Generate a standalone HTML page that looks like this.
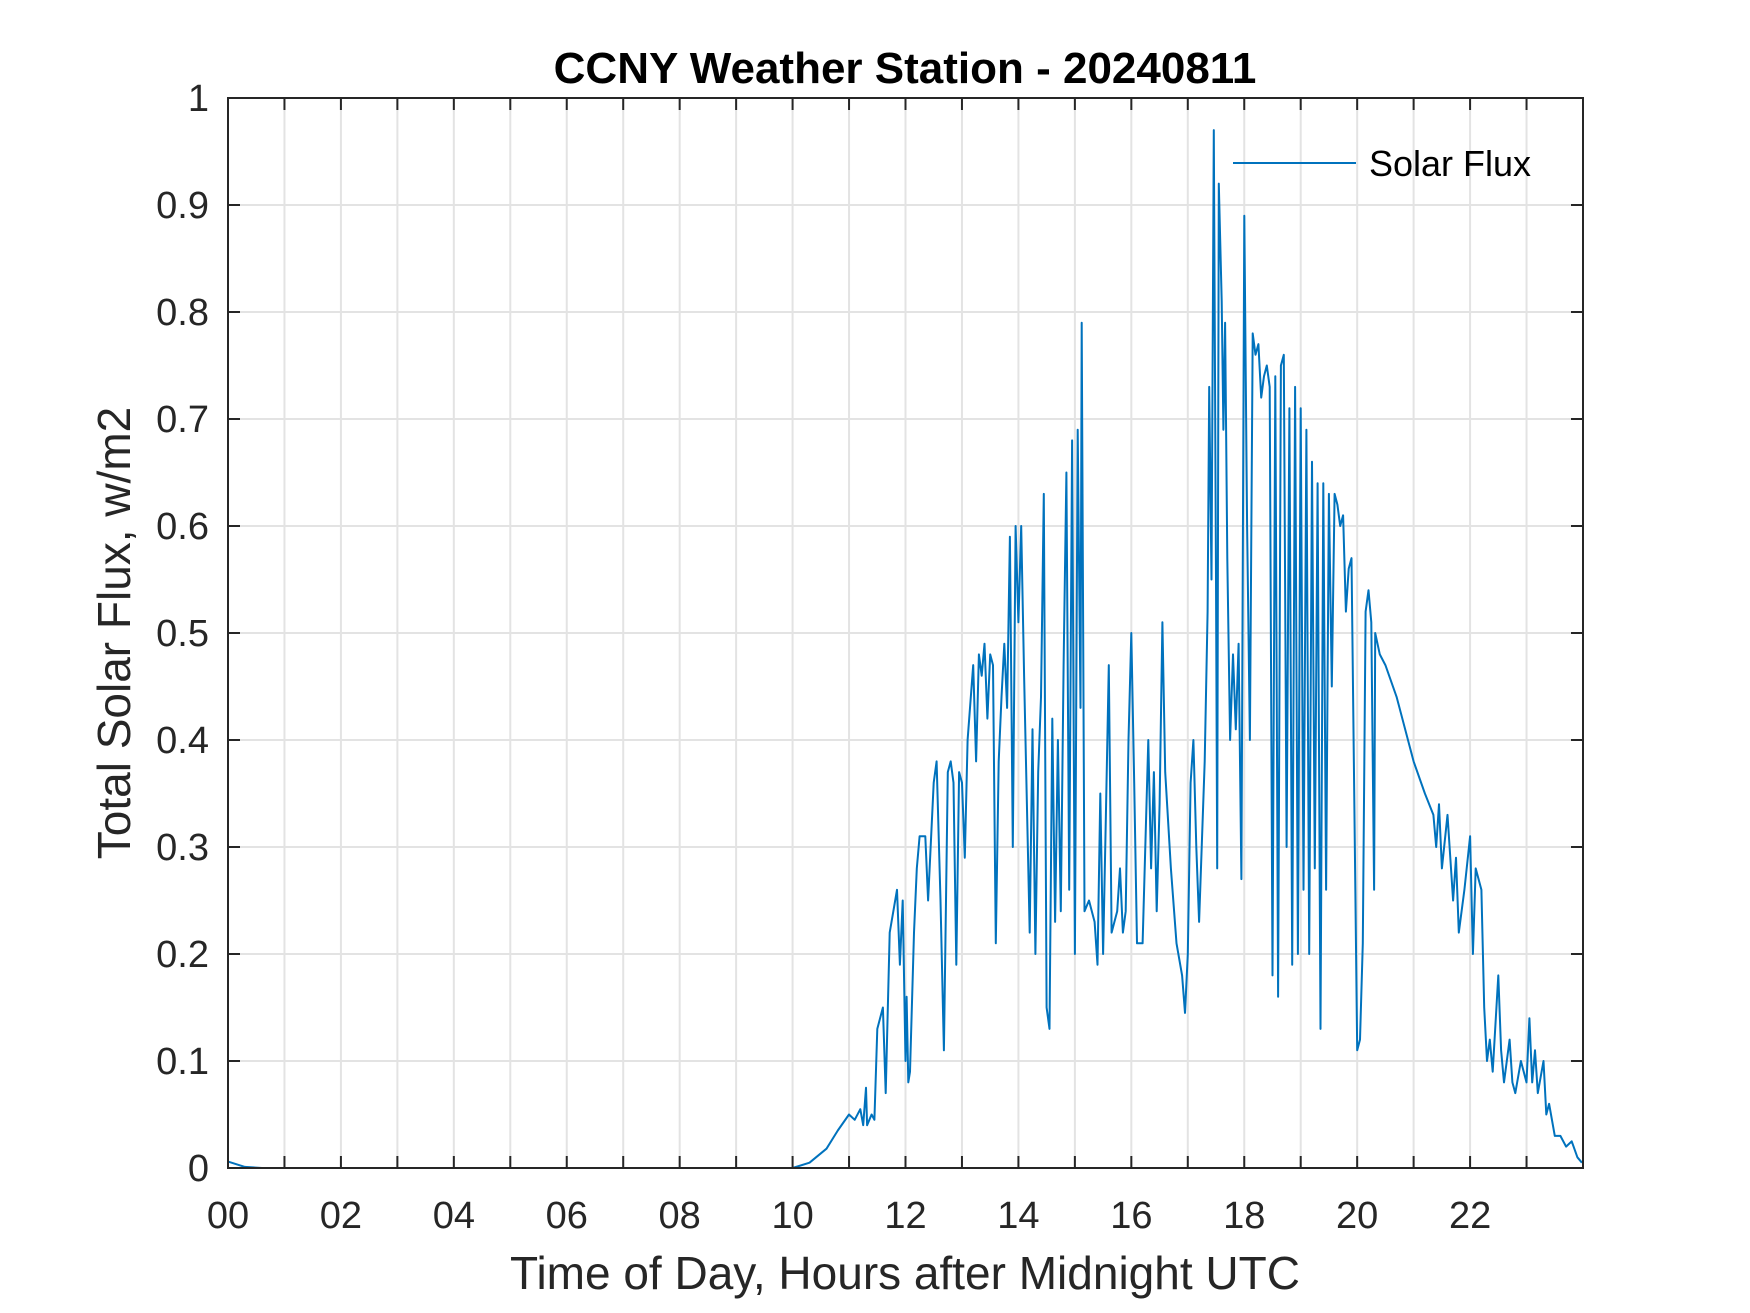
<!DOCTYPE html>
<html><head><meta charset="utf-8"><style>
html,body{margin:0;padding:0;background:#fff;}
svg{display:block;font-family:"Liberation Sans",Arial,sans-serif;}
</style></head><body>
<svg id="chart" width="1750" height="1313" viewBox="0 0 1750 1313" xmlns="http://www.w3.org/2000/svg">
<rect width="1750" height="1313" fill="#fff"/>
<g id="grid"></g>
<g id="series"></g>
<g id="axes"></g>
<text x="905" y="83" text-anchor="middle" font-size="44" font-weight="bold" fill="#000">CCNY Weather Station - 20240811</text>
<text x="905" y="1289" text-anchor="middle" font-size="46" fill="#262626">Time of Day, Hours after Midnight UTC</text>
<text transform="translate(130,633) rotate(-90)" text-anchor="middle" font-size="46" fill="#262626">Total Solar Flux, w/m2</text>
<g>
<line x1="1233" y1="163" x2="1356" y2="163" stroke="#0072BD" stroke-width="2"/>
<text x="1369" y="176" font-size="36" fill="#000">Solar Flux</text>
</g>
</svg>
<script>
const hours = [0,0.3,0.6,10.0,10.3,10.6,10.8,11.0,11.1,11.2,11.25,11.3,11.32,11.4,11.45,11.5,11.6,11.65,11.72,11.85,11.9,11.95,12.0,12.02,12.05,12.08,12.15,12.2,12.25,12.35,12.4,12.5,12.55,12.62,12.68,12.75,12.8,12.85,12.9,12.95,13.0,13.05,13.1,13.2,13.25,13.3,13.35,13.4,13.45,13.5,13.55,13.6,13.65,13.7,13.75,13.8,13.85,13.9,13.95,14.0,14.05,14.1,14.2,14.25,14.3,14.35,14.4,14.45,14.5,14.55,14.6,14.65,14.7,14.75,14.8,14.85,14.9,14.95,15.0,15.05,15.1,15.12,15.17,15.25,15.35,15.4,15.45,15.5,15.55,15.6,15.65,15.75,15.8,15.85,15.9,15.95,16.0,16.05,16.1,16.2,16.3,16.35,16.4,16.45,16.5,16.55,16.6,16.7,16.8,16.9,16.95,17.0,17.05,17.1,17.15,17.2,17.3,17.35,17.38,17.42,17.46,17.5,17.52,17.55,17.6,17.63,17.66,17.7,17.75,17.8,17.85,17.9,17.95,18.0,18.05,18.1,18.15,18.2,18.25,18.3,18.35,18.4,18.45,18.5,18.55,18.6,18.65,18.7,18.75,18.8,18.85,18.9,18.95,19.0,19.05,19.1,19.15,19.2,19.25,19.3,19.35,19.4,19.45,19.5,19.55,19.6,19.65,19.7,19.75,19.8,19.85,19.9,20.0,20.05,20.1,20.15,20.2,20.25,20.3,20.32,20.4,20.5,20.7,21.0,21.2,21.35,21.4,21.45,21.5,21.6,21.7,21.75,21.8,21.9,22.0,22.05,22.1,22.2,22.25,22.3,22.35,22.4,22.5,22.55,22.6,22.7,22.75,22.8,22.9,23.0,23.05,23.1,23.15,23.2,23.3,23.35,23.4,23.5,23.6,23.7,23.8,23.9,23.98];
const flux = [0.006,0.001,0,0,0.005,0.018,0.035,0.05,0.045,0.055,0.04,0.075,0.04,0.05,0.045,0.13,0.15,0.07,0.22,0.26,0.19,0.25,0.1,0.16,0.08,0.09,0.22,0.28,0.31,0.31,0.25,0.36,0.38,0.25,0.11,0.37,0.38,0.36,0.19,0.37,0.36,0.29,0.40,0.47,0.38,0.48,0.46,0.49,0.42,0.48,0.47,0.21,0.38,0.44,0.49,0.43,0.59,0.30,0.60,0.51,0.60,0.46,0.22,0.41,0.20,0.37,0.44,0.63,0.15,0.13,0.42,0.23,0.40,0.24,0.47,0.65,0.26,0.68,0.20,0.69,0.43,0.79,0.24,0.25,0.23,0.19,0.35,0.20,0.33,0.47,0.22,0.24,0.28,0.22,0.24,0.40,0.50,0.36,0.21,0.21,0.40,0.28,0.37,0.24,0.34,0.51,0.37,0.28,0.21,0.18,0.145,0.20,0.36,0.40,0.30,0.23,0.38,0.52,0.73,0.55,0.97,0.55,0.28,0.92,0.81,0.69,0.79,0.57,0.40,0.48,0.41,0.49,0.27,0.89,0.60,0.40,0.78,0.76,0.77,0.72,0.74,0.75,0.73,0.18,0.74,0.16,0.75,0.76,0.30,0.71,0.19,0.73,0.20,0.71,0.26,0.69,0.20,0.66,0.28,0.64,0.13,0.64,0.26,0.63,0.45,0.63,0.62,0.60,0.61,0.52,0.56,0.57,0.11,0.12,0.21,0.52,0.54,0.51,0.26,0.50,0.48,0.47,0.44,0.38,0.35,0.33,0.30,0.34,0.28,0.33,0.25,0.29,0.22,0.26,0.31,0.20,0.28,0.26,0.15,0.10,0.12,0.09,0.18,0.11,0.08,0.12,0.08,0.07,0.10,0.08,0.14,0.08,0.11,0.07,0.10,0.05,0.06,0.03,0.03,0.02,0.025,0.01,0.005];
const xTickLabels = ["00","02","04","06","08","10","12","14","16","18","20","22"];
const yTickLabels = ["0","0.1","0.2","0.3","0.4","0.5","0.6","0.7","0.8","0.9","1"];

const L=228,R=1583,T=98,B=1168;
const xMin=0,xMax=24,yMin=0,yMax=1;
function X(h){return L+(h-xMin)/(xMax-xMin)*(R-L);}
function Y(v){return B-(v-yMin)/(yMax-yMin)*(B-T);}
const NS="http://www.w3.org/2000/svg";
function mk(tag,attrs,parent){const e=document.createElementNS(NS,tag);for(const k in attrs)e.setAttribute(k,attrs[k]);parent.appendChild(e);return e;}
const grid=document.getElementById('grid'),axes=document.getElementById('axes'),series=document.getElementById('series');
for(let h=1;h<24;h++){
  const g=mk('line',{x1:X(h),x2:X(h),y1:T,y2:B,stroke:'#e3e3e3','stroke-width':2},grid);
  
  
  const t1=mk('line',{x1:X(h),x2:X(h),y1:B,y2:B-12,stroke:'#262626','stroke-width':2},axes);
  
  
  const t2=mk('line',{x1:X(h),x2:X(h),y1:T,y2:T+12,stroke:'#262626','stroke-width':2},axes);
  
  
}
yTickLabels.forEach((lab,i)=>{
  const v=parseFloat(lab),y=Y(v);
  if(i>0&&i<yTickLabels.length-1){
    const g=mk('line',{x1:L,x2:R,y1:y,y2:y,stroke:'#e3e3e3','stroke-width':2},grid);
    
    
  }
  const t1=mk('line',{x1:L,x2:L+12,y1:y,y2:y,stroke:'#262626','stroke-width':2},axes);
  
  
  const t2=mk('line',{x1:R,x2:R-12,y1:y,y2:y,stroke:'#262626','stroke-width':2},axes);
  
  
  const tx=mk('text',{x:209,y:y+13,'text-anchor':'end','font-size':38,fill:'#262626'},axes);
  tx.textContent=lab;
  
  
});
xTickLabels.forEach((lab)=>{
  const h=parseFloat(lab);
  const tx=mk('text',{x:X(h),y:1228,'text-anchor':'middle','font-size':38,fill:'#262626'},axes);
  tx.textContent=lab;
  
  
});
const frame=mk('rect',{x:L,y:T,width:R-L,height:B-T,fill:'none',stroke:'#262626','stroke-width':2},axes);


const d=hours.map((h,i)=>(i?'L':'M')+X(h).toFixed(1)+' '+Y(flux[i]).toFixed(1)).join(' ');
const p=mk('path',{d:d,fill:'none',stroke:'#0072BD','stroke-width':2,'stroke-linejoin':'round'},series);


</script>
</body></html>
